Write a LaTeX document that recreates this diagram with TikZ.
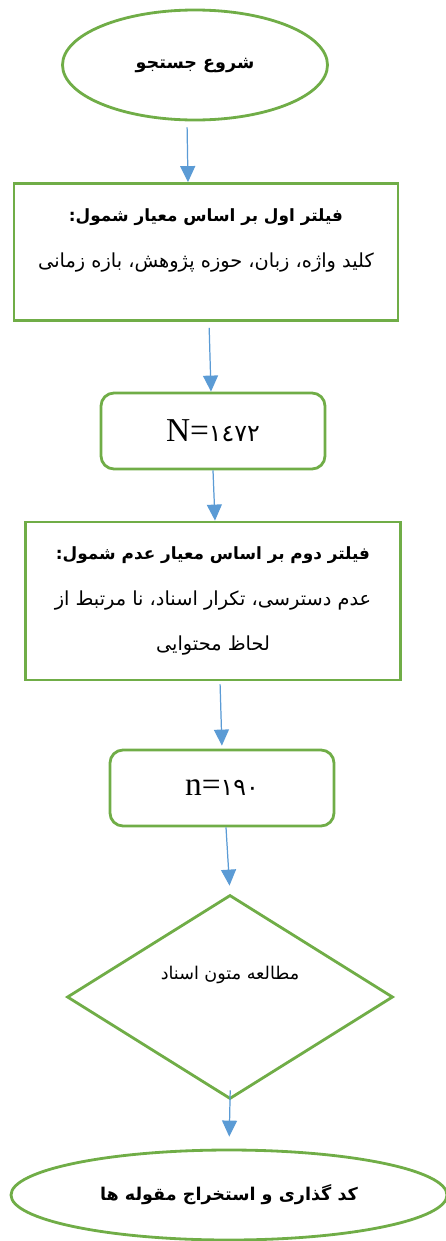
\documentclass[tikz,border=0pt]{standalone}
\usepackage{fontspec}
\setmainfont{Liberation Serif}
\newfontfamily\arabicfont[Script=Arabic]{DejaVu Sans}
\TeXXeTstate=1
\usetikzlibrary{positioning, arrows.meta, shapes.geometric}
\definecolor{verde}{RGB}{112,173,71}
\definecolor{azul}{RGB}{91,155,213}
\tikzset{
	->, % arcos dirigidos
	>={Triangle[width=0.3cm, length=0.32cm]}, % punta de flecha rellena
	flecha/.style={draw=azul, fill=azul, line width=0.7pt}, % conectores azules
	every node/.style={draw=verde, line width=1.6pt, inner sep=0pt, align=center}, % bordes verdes
	caja/.style={rectangle}, % filtro
	cuenta/.style={rectangle, rounded corners=0.26cm, minimum width=4.48cm, minimum height=1.52cm}, % numero de documentos
	extremo/.style={ellipse}, % inicio y fin
	decision/.style={diamond, shape aspect=1.6, minimum width=6.52cm, minimum height=4.08cm}, % lectura
	texto/.style={font=\arabicfont\fontsize{11}{26}\selectfont} % texto persa
}
\newcommand{\negrita}[1]{{\bfseries\fontsize{9.6}{26}\selectfont\beginR #1\endR}}
\newcommand{\digitos}[1]{{\arabicfont\fontsize{13.5}{22}\selectfont #1}}

\begin{document}
\begin{tikzpicture}
	\useasboundingbox (0,0) rectangle (8.92,-24.82);
	\node[extremo, texto, minimum width=5.3cm, minimum height=2.2cm] (inicio) at (3.9,-1.3) {\bfseries\fontsize{10}{12}\selectfont\beginR شروع جستجو\endR};
	\node[caja, texto, below of=inicio, node distance=3.74cm, xshift=0.22cm, minimum width=7.68cm, minimum height=2.74cm, text depth=0.55cm] (filtro1)
		{\negrita{فیلتر اول بر اساس معیار شمول:}\\ \beginR کلید واژه، زبان، حوزه پژوهش، بازه زمانی\endR};
	\node[cuenta, below of=filtro1, node distance=3.58cm, xshift=0.14cm, font=\fontsize{19}{22}\selectfont] (total) {N=\digitos{١٤٧٢}};
	\node[caja, texto, below of=total, node distance=3.4cm, minimum width=7.5cm, minimum height=3.16cm] (filtro2)
		{\negrita{فیلتر دوم بر اساس معیار عدم شمول:}\\ \beginR عدم دسترسی، تکرار اسناد، نا مرتبط از\endR\\ \beginR لحاظ محتوایی\endR};
	\node[cuenta, below of=filtro2, node distance=3.74cm, xshift=0.18cm, font=\fontsize{19}{22}\selectfont] (muestra) {n=\digitos{١٩٠}};
	\node[decision, font=\arabicfont\fontsize{10}{12}\selectfont, below of=muestra, node distance=4.18cm, xshift=0.16cm] (lectura) {\raisebox{0.95cm}{\beginR مطالعه متون اسناد\endR}};
	\node[extremo, texto, below of=lectura, node distance=3.96cm, xshift=-0.02cm, minimum width=8.72cm, minimum height=1.8cm] (codigo) {\bfseries\fontsize{10}{12}\selectfont\beginR کد گذاری و استخراج مقوله ها\endR};
	\draw[flecha, shorten <=0.12cm] ([xshift=-0.16cm]inicio.south) -- ([xshift=-0.36cm]filtro1.north);
	\draw[flecha, shorten <=0.12cm] ([xshift=0.06cm]filtro1.south) -- ([xshift=-0.04cm]total.north);
	\draw[flecha] (total.south) -- ([xshift=0.04cm]filtro2.north);
	\draw[flecha, shorten <=0.06cm, shorten >=0.06cm] ([xshift=0.14cm]filtro2.south) -- (muestra.north);
	\draw[flecha, shorten >=0.16cm] ([xshift=0.08cm]muestra.south) -- (lectura.north);
	\draw[flecha, shorten <=-0.2cm, shorten >=0.24cm] (lectura.south) -- (codigo.north);
\end{tikzpicture}
\end{document}
